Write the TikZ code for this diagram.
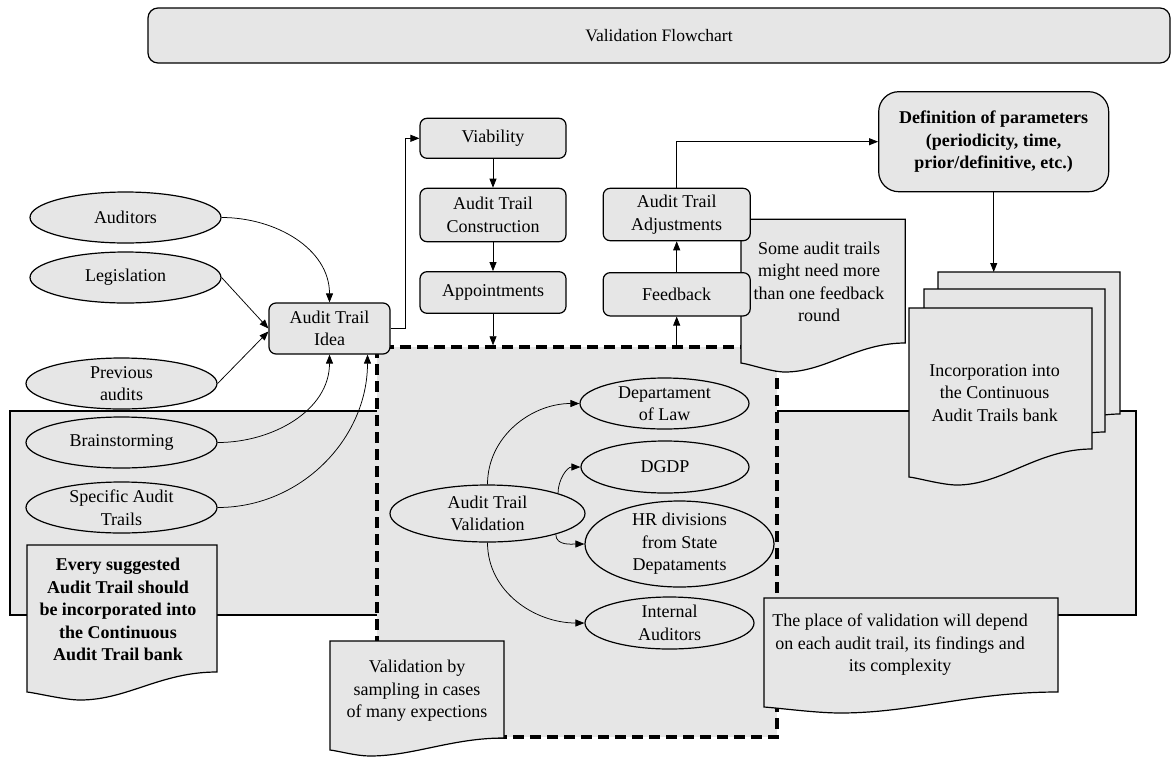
\documentclass[tikz,border=0pt]{standalone}
\usepackage{fontspec}
\setmainfont{Liberation Serif}
\usetikzlibrary{shapes.geometric,arrows.meta}
\definecolor{boxgrey}{RGB}{230,230,230}
\newcommand{\nf}{\fontsize{18}{22.5}\selectfont}
% document shape with a wavy bottom edge:
% [options] x-left, top, x-right, y bottom-left, y bottom-right, x of lowest point, y of lowest point
\newcommand{\docshape}[8][]{%
  \draw[docline,#1] (#2,-#3) -- (#4,-#3) -- (#4,-#6)
    .. controls ({#4-0.3*(#4-#2)},-#6) and ({#7+0.25*(#4-#2)},-#8) .. (#7,-#8)
    .. controls ({#7-0.08*(#4-#2)},-#8) and ({#2+0.05*(#4-#2)},{-#5-1}) .. (#2,-#5) -- cycle;}
\begin{document}
\begin{tikzpicture}[x=1pt,y=1pt,
  box/.style={draw, fill=boxgrey, rounded corners=7pt, line width=1.2pt, align=center, inner sep=0pt, font=\nf},
  oval/.style={draw, fill=boxgrey, ellipse, line width=1.2pt, inner sep=0pt},
  txt/.style={align=center, inner sep=0pt, font=\nf},
  docline/.style={draw, fill=boxgrey, line width=1.2pt},
  link/.style={line width=0.75pt, -{Triangle[length=9pt,width=7pt]}},
  dashbox/.style={draw, fill=boxgrey, line width=3.5pt, dash pattern=on 11pt off 6pt, inner sep=0pt}]
\useasboundingbox (0,0) rectangle (1172,-758);

% title bar
\node[box, rounded corners=10pt, minimum width=1022, minimum height=55,
      font=\fontsize{17.5}{20}\selectfont] (title) at (659,-35.5) {Validation Flowchart};

% shaded band behind the lower part
\draw[fill=boxgrey, line width=1.2pt] (10,-411) rectangle (1136,-615);

% validation area
\node[dashbox, minimum width=400, minimum height=390] (vbox) at (577,-542) {};

% notes
\docshape{741}{219.3}{905.3}{363}{343}{785}{372}
\node[txt] (note1) at (819,-282) {Some audit trails\\might need more\\than one feedback\\round};

\docshape{27}{545}{217}{692}{672}{80}{700}
\node[txt, font=\nf\bfseries] (note2) at (118,-609.5) {Every suggested\\Audit Trail should\\be incorporated into\\the Continuous\\Audit Trail bank};

\docshape{330}{641}{504}{750}{738}{370}{756}
\node[txt] (note3) at (417,-691) {Validation by\\sampling in cases\\of many expections};

\docshape{764}{598}{1058}{707}{692}{840}{713}
\node[txt] (note4) at (900,-645) {The place of validation will depend\\on each audit trail, its findings and\\its complexity};

% stacked documents: the bank
\docshape{938}{272}{1120}{442}{414}{985}{450}
\docshape{924}{289}{1105}{460}{432}{970}{468}
\docshape{909}{308}{1092}{477}{449}{957}{485}
\coordinate (stacktop) at (993.7,-272);
\node[txt] (bank) at (994.7,-393) {Incorporation into\\the Continuous\\Audit Trails bank};

% sources of ideas
\node[oval, minimum width=191, minimum height=51] (aud) at (125.5,-217.5) {};
\node[txt] at (aud) {Auditors};
\node[oval, minimum width=191, minimum height=51] (leg) at (125.5,-277.5) {};
\node[txt] at (leg) {Legislation};
\node[oval, minimum width=191, minimum height=51] (prev) at (121.5,-383.5) {};
\node[txt] at (prev) {Previous\\audits};
\node[oval, minimum width=191, minimum height=51] (brain) at (121.5,-442.5) {};
\node[txt] at (brain) {Brainstorming};
\node[oval, minimum width=191, minimum height=51] (spec) at (121.5,-507.5) {};
\node[txt] at (spec) {Specific Audit\\Trails};

% main flow
\node[box, minimum width=121, minimum height=51] (idea) at (329.5,-328.5) {Audit Trail\\Idea};
\node[box, minimum width=146, minimum height=40] (via) at (493,-138.3) {Viability};
\node[box, minimum width=146, minimum height=53.4] (con) at (493,-215) {Audit Trail\\Construction};
\node[box, minimum width=146, minimum height=41.6] (app) at (493,-292.5) {Appointments};
\node[box, minimum width=147, minimum height=52.4] (adj) at (676.7,-214.5) {Audit Trail\\Adjustments};
\node[box, minimum width=147, minimum height=43.3] (fb) at (676.7,-294.3) {Feedback};
\node[box, rounded corners=20pt, minimum width=230, minimum height=100, font=\nf\bfseries] (def)
  at (993.7,-141.7) {Definition of parameters\\(periodicity, time,\\prior/definitive, etc.)};

% validating bodies
\node[oval, minimum width=195, minimum height=57] (val) at (487.5,-513.5) {};
\node[txt] at (val) {Audit Trail\\Validation};
\node[oval, minimum width=169, minimum height=51] (law) at (664.5,-403.5) {};
\node[txt] at (law) {Departament\\of Law};
\node[oval, minimum width=168, minimum height=52] (dgdp) at (665,-467) {};
\node[txt] at (dgdp) {DGDP};
\node[oval, minimum width=189, minimum height=86] (hr) at (679.5,-544) {};
\node[txt] at (hr) {HR divisions\\from State\\Depataments};
\node[oval, minimum width=169, minimum height=52] (int) at (669.5,-623) {};
\node[txt] at (int) {Internal\\Auditors};

% connectors
\draw[link] (aud.east) to[out=0,in=90] (idea.north);
\draw[link] (leg.east) -- (idea.west);
\draw[link] (prev.east) -- ([yshift=-3]idea.west);
\draw[link] (brain.east) to[out=0,in=-90] (idea.south);
\draw[link] (spec.east) to[out=0,in=-90] ([xshift=38]idea.south);

\draw[link] (idea.east) -- ++(15,0) |- (via.west);
\draw[link] (via.south) -- (con.north);
\draw[link] (con.south) -- (app.north);
\draw[link] (app.south) -- (app.south |- vbox.north);
\draw[link] (fb.south |- vbox.north) -- (fb.south);
\draw[link] (fb.north) -- (adj.south);
\draw[link] (adj.north) |- (def.west);
\draw[link] (def.south) -- (stacktop);

\draw[link] (val.north) to[out=90,in=180] (law.west);
\draw[link] (val.16) to[out=90,in=180] (dgdp.west);
\draw[link] (val.-17) to[out=-90,in=180] (hr.west);
\draw[link] (val.south) to[out=-90,in=180] (int.west);
\end{tikzpicture}
\end{document}
